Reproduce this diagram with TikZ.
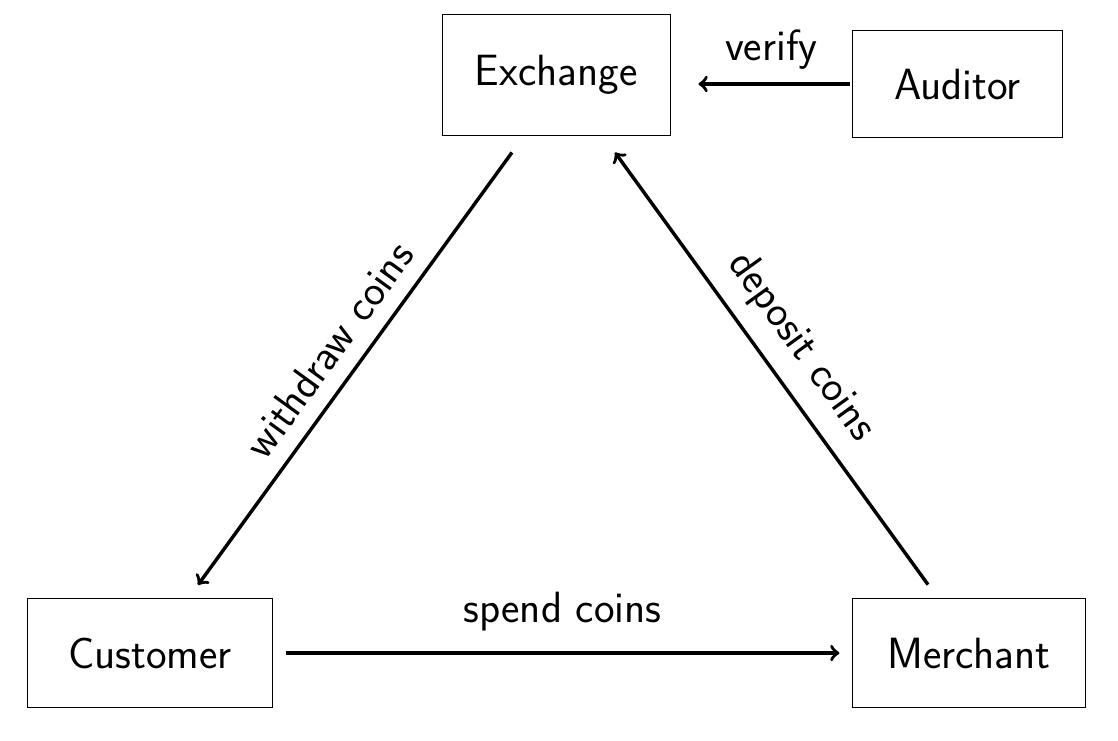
\documentclass[tikz,border=0pt]{standalone}
\begin{document}
\begin{tikzpicture}[x=0.0143cm,y=-0.0143cm,font=\sffamily\fontsize{17.8}{21}\selectfont,
    party/.style={draw,inner sep=0pt},
    flow/.style={->,line width=1.4pt}]
    \useasboundingbox (0,0) rectangle (1118,740);
    \node[party,minimum width=3.26cm,minimum height=1.73cm] (exchange) at (556,74.5) {Exchange};
    \node[party,minimum width=2.99cm,minimum height=1.54cm] (auditor) at (957.5,84) {Auditor};
    \node[party,minimum width=3.49cm,minimum height=1.56cm] (customer) at (150,653) {Customer};
    \node[party,minimum width=3.32cm,minimum height=1.57cm] (merchant) at (969,653) {Merchant};
    \draw[flow,shorten <=0.03cm,shorten >=0.4cm] (auditor.west) -- (auditor.west -| exchange.east) node[midway,above=2pt,xshift=0.14cm]{verify};
    \draw[flow] ([xshift=-0.63cm,yshift=-0.243cm]exchange.south) -- ([xshift=0.686cm,yshift=0.186cm]customer.north)
        node[midway,above=3pt,sloped]{withdraw coins};
    \draw[flow] ([xshift=-0.586cm,yshift=0.186cm]merchant.north) -- ([xshift=0.844cm,yshift=-0.243cm]exchange.south)
        node[midway,above=3pt,sloped]{deposit coins};
    \draw[flow,shorten <=0.186cm,shorten >=0.186cm] (customer.east) -- (merchant.west) node[midway,above=5pt]{spend coins};
\end{tikzpicture}
\end{document}
